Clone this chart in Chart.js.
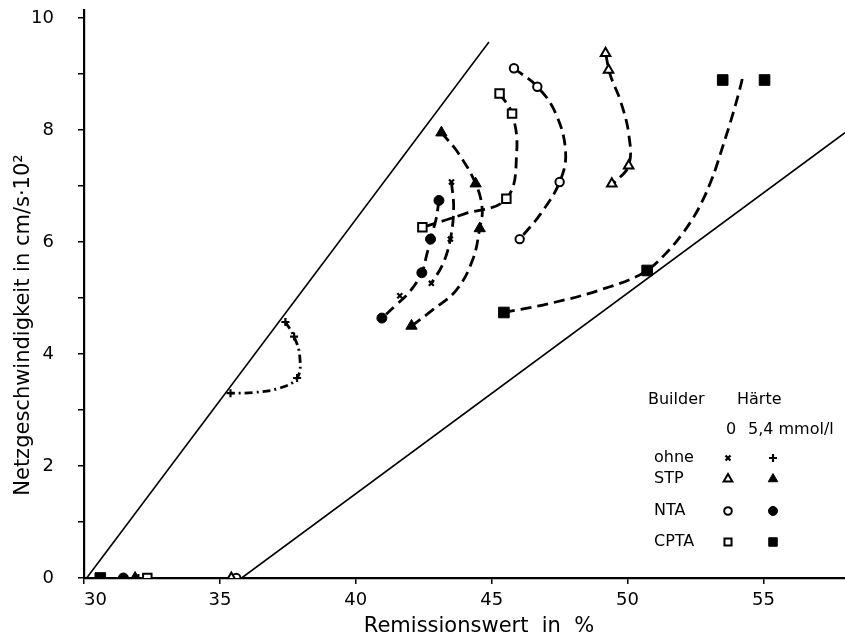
<!DOCTYPE html>
<html>
<head>
<meta charset="utf-8">
<script src="https://cdn.jsdelivr.net/npm/chart.js@4/dist/chart.umd.min.js"></script>
<style>
  html, body { margin: 0; padding: 0; background: #fff; }
  #wrap { width: 845px; height: 641px; }
</style>
</head>
<body>
<div id="wrap"><canvas id="chart" width="845" height="641"></canvas></div>
<script>
// ── Axis ticks ──
const X_TICKS = [30, 35, 40, 45, 50, 55];
const Y_TICKS = [0, 1, 2, 3, 4, 5, 6, 7, 8, 9, 10];
const X_TITLE = 'Remissionswert  in  %';
const Y_TITLE = 'Netzgeschwindigkeit in cm/s·10²';

// ── Measured points (Remissionswert %, Netzgeschwindigkeit cm/s·10²) ──
const ohne0X = [43.52, 43.48, 42.78, 41.62];
const ohne0Y = [7.07, 6.05, 5.26, 5.04];
const ohne54X = [37.41, 37.73, 37.84, 35.39, 32.0];
const ohne54Y = [4.57, 4.31, 3.57, 3.30, 0];
const stp0X = [49.19, 49.3, 50.04, 49.42, 35.42];
const stp0Y = [9.37, 9.07, 7.36, 7.04, 0];
const stp54X = [43.15, 44.41, 44.56, 42.05, 31.88];
const stp54Y = [7.95, 7.04, 6.24, 4.5, 0];
const nta0X = [45.82, 46.68, 47.5, 46.03, 35.6];
const nta0Y = [9.10, 8.77, 7.07, 6.05, 0];
const nta54X = [43.06, 42.75, 42.43, 40.96, 31.45];
const nta54Y = [6.74, 6.05, 5.45, 4.64, 0];
const cpta0X = [45.29, 45.75, 45.54, 42.45, 32.33];
const cpta0Y = [8.65, 8.29, 6.77, 6.26, 0];
const cpta54X = [53.5, 55.04, 50.72, 45.45, 30.6];
const cpta54Y = [8.89, 8.89, 5.49, 4.74, 0];

// ── Hand-drawn trend curves ──
const ohne0CurveX = [43.52, 43.6, 43.48, 43.2, 42.78];
const ohne0CurveY = [7.07, 6.6, 6.05, 5.6, 5.26];
const ohne54CurveX = [37.41, 37.73, 37.94, 37.84, 37.2, 36.22, 35.39];
const ohne54CurveY = [4.57, 4.31, 3.95, 3.57, 3.39, 3.31, 3.30];
const stp0CurveX = [49.2, 49.35, 49.75, 50.05, 50.04, 49.5];
const stp0CurveY = [9.35, 9.0, 8.5, 7.9, 7.36, 7.05];
const stp54CurveX = [43.15, 43.75, 44.41, 44.65, 44.56, 44.3, 43.7, 42.84, 42.05];
const stp54CurveY = [7.95, 7.6, 7.04, 6.6, 6.24, 5.68, 5.14, 4.79, 4.5];
const nta0CurveX = [45.82, 46.68, 47.35, 47.72, 47.5, 46.8, 46.03];
const nta0CurveY = [9.1, 8.77, 8.3, 7.6, 7.07, 6.5, 6.05];
const nta54CurveX = [43.06, 42.95, 42.75, 42.6, 42.43, 42.0, 41.5, 40.96];
const nta54CurveY = [6.74, 6.4, 6.05, 5.75, 5.45, 5.12, 4.88, 4.64];
const cpta0CurveX = [45.29, 45.75, 45.92, 45.54, 44.0, 42.45];
const cpta0CurveY = [8.65, 8.29, 7.6, 6.77, 6.5, 6.26];
const cpta54CurveX = [45.45, 47.13, 48.97, 50.72, 51.42, 52.1, 52.65, 53.14, 53.5, 53.81, 54.12, 54.24];
const cpta54CurveY = [4.74, 4.9, 5.14, 5.49, 5.8, 6.2, 6.63, 7.17, 7.7, 8.18, 8.71, 8.95];

// ── Boundary lines ──
const upperLineX = [30.1, 44.9];
const upperLineY = [0, 9.57];
const lowerLineX = [35.8, 58];
const lowerLineY = [0, 7.95];

const FONT = 'DejaVu Sans';
const pts = (xs, ys) => xs.map((x, i) => ({ x, y: ys[i] }));

function markers(xs, ys, style, radius, filled, extra) {
  return Object.assign({
    type: 'scatter', order: 0,
    data: pts(xs, ys),
    pointStyle: style, pointRadius: radius,
    backgroundColor: filled ? '#000' : '#fff',
    borderColor: '#000', borderWidth: filled ? 1 : 2
  }, extra || {});
}

function curve(xs, ys, dash, mode) {
  return {
    type: 'line', order: 1,
    data: pts(xs, ys),
    borderColor: '#000', borderWidth: 2.8, borderDash: dash || [11, 6],
    tension: 0.4, cubicInterpolationMode: mode || 'default', pointRadius: 0, fill: false
  };
}

function straight(xs, ys) {
  return { type: 'line', order: 2, data: pts(xs, ys), borderColor: '#000', borderWidth: 1.6, pointRadius: 0, tension: 0, fill: false };
}

function noPad(s) { s.paddingLeft = 0; s.paddingRight = 0; s.paddingTop = 0; s.paddingBottom = 0; }

// ── Axis titles + Builder / Härte table ──
const annotatePlugin = {
  id: 'annotate',
  afterDraw(chart) {
    const ctx = chart.ctx;
    ctx.save();
    ctx.fillStyle = '#000';
    ctx.textBaseline = 'middle';

    ctx.font = '21px "' + FONT + '"';
    ctx.textAlign = 'center';
    ctx.fillText(X_TITLE, 479, 627);
    ctx.save();
    ctx.translate(24, 325);
    ctx.rotate(-Math.PI / 2);
    ctx.fillText(Y_TITLE, 0, 0);
    ctx.restore();

    ctx.font = '16px "' + FONT + '"';
    ctx.textAlign = 'left';
    ctx.fillText('Builder', 648, 400);
    ctx.fillText('Härte', 737, 400);
    ctx.textAlign = 'center';
    ctx.fillText('0', 731, 430);
    ctx.textAlign = 'left';
    ctx.fillText('5,4 mmol/l', 748, 430);

    const rows = [
      { label: 'ohne', y: 458, open: ['crossRot', 3.5], full: ['cross', 4] },
      { label: 'STP', y: 479, open: ['triangle', 5], full: ['triangle', 5.5] },
      { label: 'NTA', y: 511, open: ['circle', 3.8], full: ['circle', 4.5] },
      { label: 'CPTA', y: 542, open: ['rect', 5], full: ['rect', 6] }
    ];
    rows.forEach(r => {
      ctx.fillStyle = '#000';
      ctx.fillText(r.label, 654, r.y);
      [[728, r.open, false], [773, r.full, true]].forEach(([x, s, filled]) => {
        ctx.strokeStyle = '#000';
        ctx.fillStyle = filled ? '#000' : '#fff';
        ctx.lineWidth = filled ? 1 : 2;
        if (s[0] === 'cross' || s[0] === 'crossRot') ctx.lineWidth = 2.2;
        Chart.helpers.drawPoint(ctx, { pointStyle: s[0], radius: s[1], rotation: 0, borderWidth: ctx.lineWidth }, x, r.y);
      });
    });
    ctx.restore();
  }
};

new Chart(document.getElementById('chart'), {
  data: {
    datasets: [
      markers(ohne0X, ohne0Y, 'crossRot', 3.5, false, { borderWidth: 2.2 }),
      markers(ohne54X, ohne54Y, 'cross', 4, false, { borderWidth: 2.2 }),
      markers(stp0X, stp0Y, 'triangle', 5.5, false),
      markers(stp54X, stp54Y, 'triangle', 6.5, true),
      markers(nta0X, nta0Y, 'circle', 4.2, false),
      markers(nta54X, nta54Y, 'circle', 5, true),
      markers(cpta0X, cpta0Y, 'rect', 6, false),
      markers(cpta54X, cpta54Y, 'rect', 7.5, true),
      curve(ohne0CurveX, ohne0CurveY),
      curve(ohne54CurveX, ohne54CurveY, [8, 4, 2, 4]),
      curve(stp0CurveX, stp0CurveY),
      curve(stp54CurveX, stp54CurveY),
      curve(nta0CurveX, nta0CurveY),
      curve(nta54CurveX, nta54CurveY),
      curve(cpta0CurveX, cpta0CurveY),
      curve(cpta54CurveX, cpta54CurveY, null, 'monotone'),
      straight(upperLineX, upperLineY),
      straight(lowerLineX, lowerLineY)
    ]
  },
  options: {
    responsive: false,
    animation: false,
    layout: { autoPadding: false, padding: { top: 10, right: 0, left: 0, bottom: 0 } },
    plugins: { legend: { display: false }, tooltip: { enabled: false } },
    scales: {
      x: {
        type: 'linear', min: 30, max: 58,
        afterBuildTicks: s => { s.ticks = X_TICKS.concat([58]).map(v => ({ value: v })); },
        afterFit: s => { s.height = 63; noPad(s); },
        border: { display: true, color: '#000', width: 2.2 },
        grid: { drawOnChartArea: false, drawTicks: true, tickLength: 6, color: '#000', lineWidth: 1.5,
                tickColor: c => (c.tick && c.tick.value === 58) ? 'rgba(0,0,0,0)' : '#000' },
        ticks: { color: '#000', font: { family: FONT, size: 18 }, padding: 6, align: 'inner', maxRotation: 0,
                 callback: v => (v === 58 ? '' : String(v)) },
        title: { display: false }
      },
      y: {
        type: 'linear', min: 0, max: 10.14,
        afterBuildTicks: s => { s.ticks = Y_TICKS.map(v => ({ value: v })); },
        afterFit: s => { s.width = 84; noPad(s); },
        border: { display: true, color: '#000', width: 2.2 },
        grid: { drawOnChartArea: false, drawTicks: true, tickLength: 6, color: '#000', lineWidth: 1.5 },
        ticks: { color: '#000', font: { family: FONT, size: 18 }, padding: 24,
                 callback: v => (v % 2 === 0 ? String(v) : '') },
        title: { display: false }
      }
    }
  },
  plugins: [annotatePlugin]
});
</script>
</body>
</html>
